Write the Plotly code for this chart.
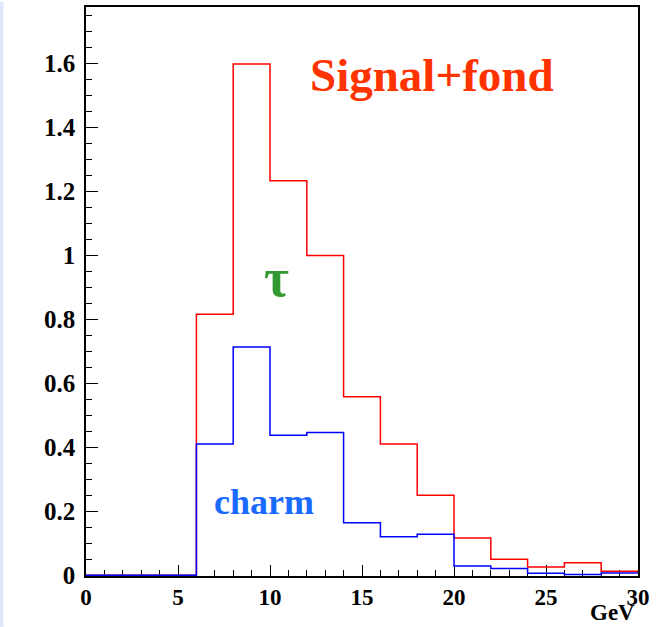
import plotly.graph_objects as go

# Bin edges (GeV) and per-bin contents of the two histograms
bin_edges = [0, 2, 4, 6, 8, 10, 12, 14, 16, 18, 20, 22, 24, 26, 28, 30]
signal_plus_bg = [0, 0, 0, 0.816, 1.599, 1.234, 1.0, 0.558, 0.41, 0.25,
                  0.116, 0.05, 0.026, 0.039, 0.012]
charm = [0, 0, 0, 0.41, 0.714, 0.438, 0.446, 0.164, 0.12, 0.128,
         0.029, 0.021, 0.006, 0.002, 0.007]

y_tick_vals = [0, 0.2, 0.4, 0.6, 0.8, 1.0, 1.2, 1.4, 1.6]
y_tick_text = ["0", "0.2", "0.4", "0.6", "0.8", "1", "1.2", "1.4", "1.6"]
x_tick_vals = [0, 5, 10, 15, 20, 25, 30]
x_tick_text = ["0", "5", "10", "15", "20", "25", "30"]

SERIF = "Liberation Serif"


def step_xy(edges, values):
    """Outline of a histogram as an hv step line."""
    xs = list(edges)
    ys = list(values) + [values[-1]]
    return xs, ys


fig = go.Figure()

xr, yr = step_xy(bin_edges, signal_plus_bg)
fig.add_trace(go.Scatter(x=xr, y=yr, mode="lines", line=dict(color="#ff0000", width=1.5, shape="hv"),
                         showlegend=False, hoverinfo="skip"))
xb, yb = step_xy(bin_edges, charm)
fig.add_trace(go.Scatter(x=xb, y=yb, mode="lines", line=dict(color="#0000ff", width=1.5, shape="hv"),
                         showlegend=False, hoverinfo="skip"))

fig.update_xaxes(
    range=[0, 30], showgrid=False, zeroline=False,
    showline=True, linecolor="black", linewidth=1.5, mirror=True,
    ticks="inside", ticklen=11, tickwidth=1.2, tickcolor="black",
    tickvals=x_tick_vals, ticktext=x_tick_text,
    tickfont=dict(family=SERIF, size=23, color="black", weight="bold"),
    minor=dict(ticks="inside", ticklen=6, tickwidth=1.2, tickcolor="black", dtick=1, showgrid=False),
    layer="below traces",
)
fig.update_yaxes(
    range=[-0.0025, 1.777], showgrid=False, zeroline=False,
    showline=True, linecolor="black", linewidth=1.5, mirror=True,
    ticks="inside", ticklen=12, tickwidth=1.2, tickcolor="black",
    tickvals=y_tick_vals, ticktext=y_tick_text,
    tickfont=dict(family=SERIF, size=25, color="black", weight="bold"),
    minor=dict(ticks="inside", ticklen=6, tickwidth=1.2, tickcolor="black", dtick=0.05, showgrid=False),
    ticklabelstandoff=4,
    layer="below traces",
)

fig.add_annotation(x=18.8, y=1.565, text="Signal+fond", showarrow=False,
                   xanchor="center", yanchor="middle",
                   font=dict(family=SERIF, size=47, color="#ff3300", weight="bold"))
fig.add_annotation(x=10.33, y=0.93, text="τ", showarrow=False,
                   xanchor="center", yanchor="middle",
                   font=dict(family=SERIF, size=54, color="#339933", weight="bold"))
fig.add_annotation(x=9.67, y=0.23, text="charm", showarrow=False,
                   xanchor="center", yanchor="middle",
                   font=dict(family=SERIF, size=36, color="#1a6aff", weight="bold"))
fig.add_annotation(x=0.9964, y=-0.065, xref="paper", yref="paper", text="GeV", showarrow=False,
                   xanchor="right", yanchor="middle", borderpad=0,
                   font=dict(family=SERIF, size=23, color="black", weight="bold"))

# thin pale strip along the left page edge
fig.add_shape(type="rect", xref="paper", yref="paper", x0=-0.1558, x1=-0.1495, y0=-0.0893, y1=1.0088,
              fillcolor="#dce8fa", line=dict(width=0), layer="below")

fig.update_layout(
    width=662, height=627,
    margin=dict(l=86, r=24, t=5, b=51),
    paper_bgcolor="white", plot_bgcolor="white",
)

fig.write_html("out.html")
